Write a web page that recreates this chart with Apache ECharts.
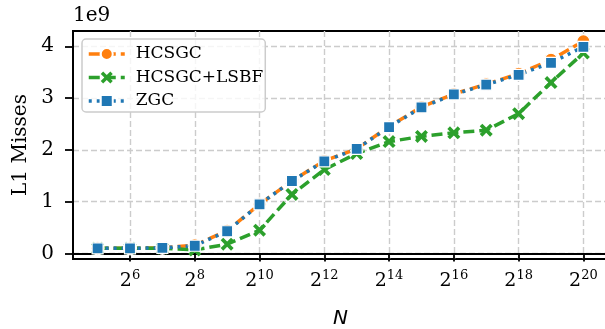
<!DOCTYPE html>
<html>
<head>
<meta charset="utf-8">
<script src="https://cdn.jsdelivr.net/npm/echarts@6/dist/echarts.min.js"></script>
<style>
  html, body { margin: 0; padding: 0; background: #fff; }
  #chart { width: 605px; height: 329px; }
</style>
</head>
<body>
<div id="chart"></div>
<script>
// log2(N) for each run
const exponents = [5, 6, 7, 8, 9, 10, 11, 12, 13, 14, 15, 16, 17, 18, 19, 20];
// L1 misses (raw counts)
const hcsgc = [0.10e9, 0.10e9, 0.11e9, 0.16e9, 0.44e9, 0.95e9, 1.40e9, 1.79e9, 2.02e9, 2.45e9, 2.83e9, 3.08e9, 3.27e9, 3.47e9, 3.74e9, 4.10e9];
const hcsgcLsbf = [0.10e9, 0.10e9, 0.10e9, 0.07e9, 0.18e9, 0.45e9, 1.14e9, 1.62e9, 1.93e9, 2.16e9, 2.26e9, 2.33e9, 2.38e9, 2.70e9, 3.30e9, 3.87e9];
const zgc = [0.10e9, 0.10e9, 0.11e9, 0.15e9, 0.43e9, 0.95e9, 1.40e9, 1.78e9, 2.02e9, 2.44e9, 2.82e9, 3.07e9, 3.26e9, 3.45e9, 3.68e9, 3.99e9];
const xTicks = [6, 8, 10, 12, 14, 16, 18, 20];
const yTicks = [0, 1e9, 2e9, 3e9, 4e9];

const serif = 'DejaVu Serif';
const xShape = 'path://M2,0 L5,3 L8,0 L10,2 L7,5 L10,8 L8,10 L5,7 L2,10 L0,8 L3,5 L0,2 Z';

function pairs(ys) {
  return exponents.map((e, i) => [e, ys[i]]);
}

const chart = echarts.init(document.getElementById('chart'), null, { renderer: 'canvas' });

var option = {
  animation: false,
  backgroundColor: '#fff',
  grid: {
    left: 73,
    top: 31,
    width: 535,
    height: 228,
    outerBoundsMode: 'none',
    containLabel: false,
    show: true,
    borderColor: '#000',
    borderWidth: 2,
    backgroundColor: 'transparent'
  },
  graphic: [{
    type: 'text',
    left: 73,
    top: 6,
    style: { text: '1e9', font: '20px "DejaVu Serif"', fill: '#000' }
  }],
  legend: {
    orient: 'vertical',
    left: 82,
    top: 39,
    padding: [5, 2, 1, 5],
    itemWidth: 36,
    itemHeight: 15,
    itemGap: 3.5,
    backgroundColor: 'rgba(255,255,255,0.8)',
    borderColor: '#cccccc',
    borderWidth: 1.5,
    borderRadius: 4,
    lineStyle: { width: 3.5 },
    textStyle: {
      fontFamily: serif,
      fontSize: 17,
      color: '#000',
      lineHeight: 20,
      padding: [0, 0, 0, 6]
    },
    data: ['HCSGC', 'HCSGC+LSBF', 'ZGC']
  },
  xAxis: {
    type: 'value',
    min: 4.24,
    max: 20.76,
    name: 'N',
    nameLocation: 'middle',
    nameGap: 50,
    nameTextStyle: { fontFamily: 'DejaVu Sans', fontStyle: 'italic', fontSize: 20, color: '#000' },
    axisLine: { lineStyle: { color: '#000', width: 2 } },
    axisTick: { customValues: xTicks, length: 8, lineStyle: { color: '#000', width: 1.8 } },
    axisLabel: {
      customValues: xTicks,
      margin: 10,
      formatter: v => '{b|2}{s|' + v + '}',
      rich: {
        b: { fontFamily: serif, fontSize: 19, color: '#000', lineHeight: 22, verticalAlign: 'bottom' },
        s: { fontFamily: serif, fontSize: 13, color: '#000', lineHeight: 22, verticalAlign: 'top' }
      }
    },
    splitLine: { show: true, lineStyle: { color: '#cccccc', width: 1.4, type: [6, 3] } }
  },
  yAxis: {
    type: 'value',
    min: -0.106e9,
    max: 4.295e9,
    name: 'L1 Misses',
    nameLocation: 'middle',
    nameGap: 42,
    nameTextStyle: { fontFamily: serif, fontSize: 20, color: '#000' },
    axisLine: { show: true, lineStyle: { color: '#000', width: 2 } },
    axisTick: { show: true, customValues: yTicks, length: 8, lineStyle: { color: '#000', width: 1.8 } },
    axisLabel: {
      customValues: yTicks,
      margin: 19,
      fontFamily: serif,
      fontSize: 20,
      color: '#000',
      formatter: v => String(Math.round(v / 1e9))
    },
    splitLine: { show: true, lineStyle: { color: '#cccccc', width: 1.4, type: [6, 3] } }
  },
  series: [
    {
      name: 'HCSGC',
      type: 'line',
      data: pairs(hcsgc),
      color: '#ff7f0e',
      symbol: 'circle',
      symbolSize: 13,
      lineStyle: { width: 3.5, type: [11, 5] },
      itemStyle: { color: '#ff7f0e', borderColor: '#fff', borderWidth: 1.2 }
    },
    {
      name: 'HCSGC+LSBF',
      type: 'line',
      data: pairs(hcsgcLsbf),
      color: '#2ca02c',
      symbol: xShape,
      symbolSize: 13,
      lineStyle: { width: 3.5, type: [11, 5] },
      itemStyle: { color: '#2ca02c' }
    },
    {
      name: 'ZGC',
      type: 'line',
      data: pairs(zgc),
      color: '#1f77b4',
      symbol: 'rect',
      symbolSize: 11,
      lineStyle: { width: 3.5, type: [3, 5] },
      itemStyle: { color: '#1f77b4', borderColor: '#fff', borderWidth: 1.2 }
    }
  ]
};
chart.setOption(option);
</script>
</body>
</html>
